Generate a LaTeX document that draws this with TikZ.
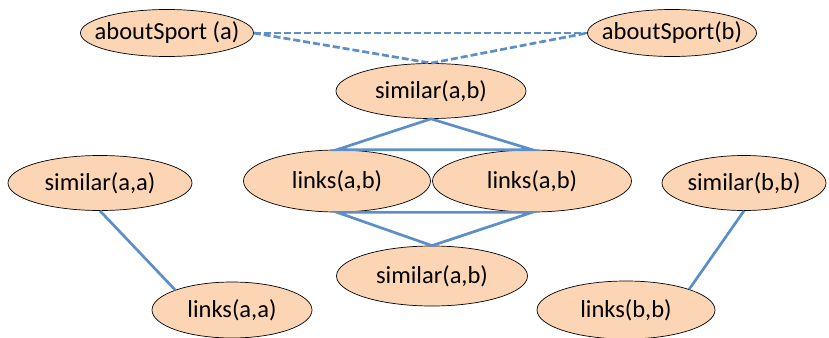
\documentclass[tikz,border=0pt]{standalone}
\usepackage{fontspec}
\setmainfont{Carlito}
\usetikzlibrary{shapes.geometric}
\definecolor{peach}{RGB}{252,213,181}
\definecolor{edgeblue}{RGB}{92,142,200}
\tikzset{
  atom/.style={ellipse, draw=black, line width=0.7pt, fill=peach, inner sep=0pt},
  link/.style={draw=edgeblue, line width=2.7pt},
  hint/.style={link, dash pattern=on 7pt off 3pt}
}

\begin{document}
\begin{tikzpicture}[x=1pt, y=-1pt, font=\fontsize{24.5}{28}\selectfont]
                \useasboundingbox (0,0) rectangle (829,337);
                % top layer
                \node[atom, minimum width=173pt, minimum height=47pt, label=center:{aboutSport (a)}] (sporta) at (167,33) {};
                \node[atom, minimum width=169pt, minimum height=47pt, label=center:{aboutSport(b)}] (sportb) at (672,33) {};
                \node[atom, minimum width=190pt, minimum height=55pt, label=center:{similar(a,b)}] (simab) at (431,91) {};
                % middle layer
                \node[atom, minimum width=187pt, minimum height=62pt, label=center:{links(a,b)}] (linksab) at (337,181) {};
                \node[atom, minimum width=199pt, minimum height=62pt, label=center:{links(a,b)}] (linksba) at (532,181) {};
                \node[atom, minimum width=184pt, minimum height=55pt, label=center:{similar(a,a)}] (simaa) at (100,183) {};
                \node[atom, minimum width=164pt, minimum height=55pt, label=center:{similar(b,b)}] (simbb) at (744,183) {};
                % bottom layer
                \node[atom, minimum width=191pt, minimum height=60pt, label=center:{similar(a,b)}] (simabl) at (432,276) {};
                \node[atom, minimum width=160pt, minimum height=56pt, label=center:{links(a,a)}] (linksaa) at (232,310) {};
                \node[atom, minimum width=178pt, minimum height=58pt, label=center:{links(b,b)}] (linksbb) at (626,310) {};

                \draw[hint] (sporta.east) -- (sportb.west);
                \draw[hint] (sporta.east) -- (simab.north) -- (sportb.west);
                \draw[link] (linksab.north) -- (simab.south) -- (linksba.north) -- cycle;
                \draw[link] (linksab.south) -- (simabl.north) -- (linksba.south) -- cycle;
                \draw[link] (simaa.south) -- (linksaa.north west);
                \draw[link] (simbb.south) -- (linksbb.north east);
            \end{tikzpicture}
\end{document}
